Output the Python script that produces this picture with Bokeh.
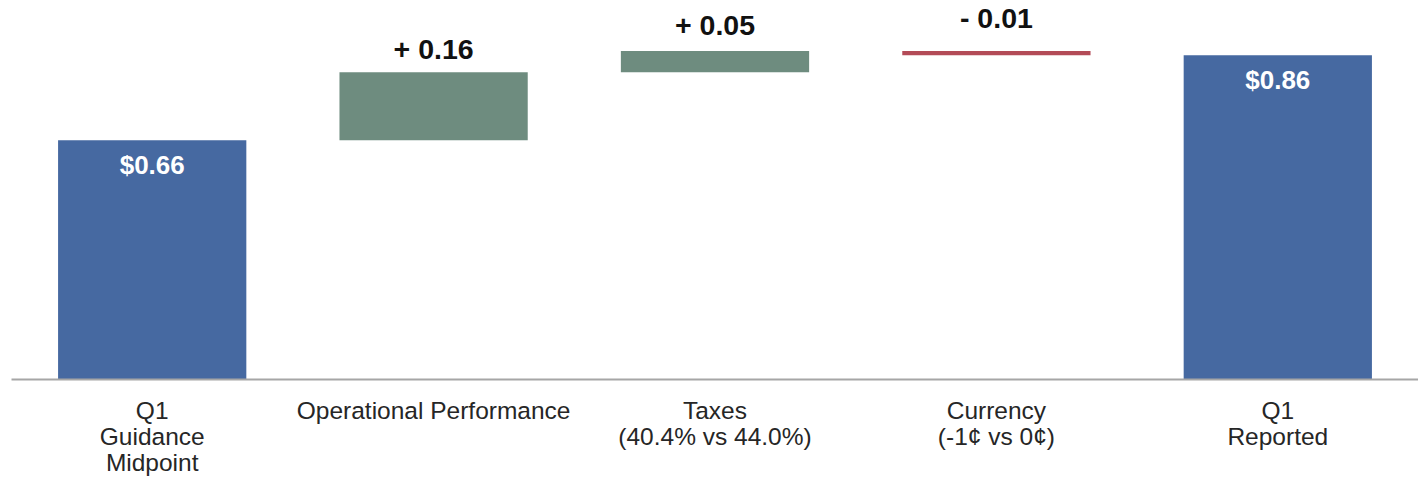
from bokeh.plotting import figure
from bokeh.models import ColumnDataSource, FactorRange, Range1d
from bokeh.core.properties import value
from bokeh.embed import file_html
from bokeh.resources import INLINE

# ---- data ----
categories = [
    "Q1\nGuidance\nMidpoint",
    "Operational Performance",
    "Taxes\n(40.4% vs 44.0%)",
    "Currency\n(-1¢ vs 0¢)",
    "Q1\nReported",
]
changes = [0.66, 0.16, 0.05, -0.01, 0.86]
kinds = ["total", "delta", "delta", "delta", "total"]
labels = ["$0.66", "+ 0.16", "+ 0.05", "- 0.01", "$0.86"]

# ---- styles ----
BLUE = "#4669A1"
GREEN = "#6E8C7F"
RED = "#B34B57"
FONT = "Liberation Sans"
delta_label_offsets = [-23, -26, -33]

bottoms, tops, colors = [], [], []
running = 0.0
for c, k in zip(changes, kinds):
    if k == "total":
        b, t = 0.0, c
        running = c
        col = BLUE
    else:
        b, t = running, running + c
        running = running + c
        col = GREEN if c > 0 else RED
    bottoms.append(min(b, t))
    tops.append(max(b, t))
    colors.append(col)

bars = ColumnDataSource(dict(x=categories, bottom=bottoms, top=tops, color=colors))

tot_idx = [i for i, k in enumerate(kinds) if k == "total"]
del_idx = [i for i, k in enumerate(kinds) if k != "total"]

tot_src = ColumnDataSource(dict(
    x=[categories[i] for i in tot_idx],
    y=[tops[i] for i in tot_idx],
    text=[labels[i] for i in tot_idx],
))
del_src = ColumnDataSource(dict(
    x=[categories[i] for i in del_idx],
    y=[tops[i] for i in del_idx],
    text=[labels[i] for i in del_idx],
    yoff=delta_label_offsets,
))

p = figure(
    x_range=FactorRange(*categories),
    y_range=Range1d(0.0953, 0.9894),
    width=1418, height=478,
    output_backend="svg", toolbar_location=None,
    min_border_left=11, min_border_right=0, min_border_top=0, min_border_bottom=96,
)

p.vbar(x="x", bottom="bottom", top="top", width=0.669, color="color",
       line_color=None, source=bars)

p.text(x="x", y="y", text="text", source=tot_src,
       text_font=value(FONT), text_font_style="bold", text_font_size="26px",
       text_color="white", text_align="center", text_baseline="top", y_offset=10)

p.text(x="x", y="y", text="text", source=del_src,
       text_font=value(FONT), text_font_style="bold", text_font_size="28.5px",
       text_color="#111111", text_align="center", text_baseline="alphabetic",
       y_offset="yoff")

p.yaxis.visible = False
p.xgrid.visible = False
p.ygrid.visible = False
p.outline_line_color = None
p.background_fill_color = "white"
p.border_fill_color = "white"

ax = p.xaxis[0]
ax.axis_line_color = "#A6A6A6"
ax.axis_line_width = 2
ax.major_tick_line_color = None
ax.minor_tick_line_color = None
ax.major_label_text_font = FONT
ax.major_label_text_font_size = "24.5px"
ax.major_label_text_color = "#262626"
ax.major_label_text_line_height = 0.97
ax.major_label_standoff = 11
ax.major_label_orientation = "horizontal"

open("out.html", "w").write(file_html(p, INLINE))
